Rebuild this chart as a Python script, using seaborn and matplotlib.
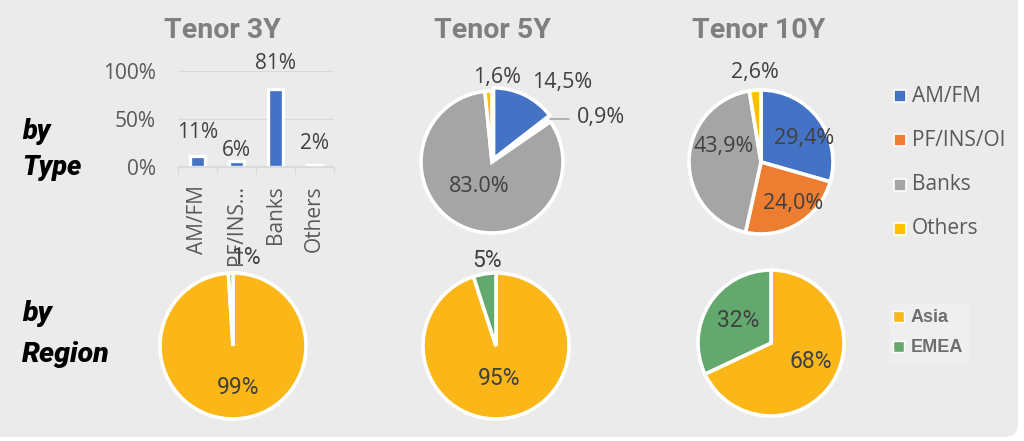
import matplotlib
matplotlib.use("Agg")
import matplotlib.pyplot as plt
from matplotlib.patches import FancyBboxPatch, Rectangle
from matplotlib.ticker import FixedLocator, PercentFormatter
import seaborn as sns
import pandas as pd

# ---- data -------------------------------------------------------------
type_categories = ["AM/FM", "PF/INS/OI", "Banks", "Others"]
type_tick_labels = ["AM/FM", "PF/INS…", "Banks", "Others"]
type_3y = [11, 6, 81, 2]
type_3y_labels = ["11%", "6%", "81%", "2%"]

type_5y = [14.5, 0.9, 83.0, 1.6]
type_5y_labels = ["14,5%", "0,9%", "83.0%", "1,6%"]

type_10y = [29.4, 24.0, 43.9, 2.6]
type_10y_labels = ["29,4%", "24,0%", "43,9%", "2,6%"]

regions = ["Asia", "EMEA"]
region_3y = [99, 1]
region_5y = [95, 5]
region_10y = [68, 32]

tenors = ["Tenor 3Y", "Tenor 5Y", "Tenor 10Y"]

# ---- style ------------------------------------------------------------
TYPE_COLORS = ["#4472C4", "#ED7D31", "#A5A5A5", "#FFC000"]
REGION_COLORS = ["#FBB617", "#63A96E"]
BG = "#EBEBEB"
LABEL_C = "#404040"
AXIS_C = "#595959"
W, H = 1024, 441

sns.set_theme(style="white")
plt.rcParams["font.family"] = ["Open Sans", "DejaVu Sans"]

fig = plt.figure(figsize=(W / 100, H / 100), dpi=100)
fig.patch.set_facecolor("white")

# full-figure canvas in pixel units for panel, headings and legends
canvas = fig.add_axes([0, 0, 1, 1], zorder=-5)
canvas.set_xlim(0, W)
canvas.set_ylim(H, 0)
canvas.axis("off")
canvas.add_patch(FancyBboxPatch((-30, -30), W - 6 + 30, H - 4 + 30,
                                boxstyle="round,pad=0,rounding_size=14",
                                facecolor=BG, edgecolor="none"))

HEAD = ["Roboto", "DejaVu Sans"]
for name, x in zip(tenors, [222, 492, 759]):
    canvas.text(x, 38, name, ha="center", va="baseline", fontsize=20.5,
                fontweight="bold", color="#7F7F7F", family=HEAD)

for txt, y, fs in [("by", 139, 19.5), ("Type", 175, 19.5),
                   ("by", 321, 20.5), ("Region", 362, 20.5)]:
    canvas.text(22, y, txt, fontsize=fs, fontweight="heavy", style="italic",
                color="black", family=HEAD, va="baseline")

# ---- 3Y bar chart by type ---------------------------------------------
bx0, bx1, by_top, by_bot = 178, 334, 71, 167
bar_ax = fig.add_axes([bx0 / W, 1 - by_bot / H, (bx1 - bx0) / W, (by_bot - by_top) / H])
bar_ax.set_facecolor("none")
df3 = pd.DataFrame({"cat": type_tick_labels, "share": [v / 100 for v in type_3y]})
sns.barplot(data=df3, x="cat", y="share", ax=bar_ax, color=TYPE_COLORS[0],
            saturation=1, width=0.36, edgecolor="white", linewidth=2.4)
bar_ax.set_ylim(0, 1)
bar_ax.set_xlim(-0.5, 3.5)
bar_ax.set_xlabel("")
bar_ax.set_ylabel("")
bar_ax.yaxis.set_major_locator(FixedLocator([0, 0.5, 1.0]))
bar_ax.yaxis.set_major_formatter(PercentFormatter(1.0, decimals=0))
bar_ax.grid(axis="y", color="#D9D9D9", linewidth=1)
bar_ax.set_axisbelow(True)
for s in ["top", "right", "left"]:
    bar_ax.spines[s].set_visible(False)
bar_ax.spines["bottom"].set_color("#D9D9D9")
bar_ax.tick_params(axis="y", length=0, pad=16, labelsize=15, labelcolor=AXIS_C)
bar_ax.tick_params(axis="x", which="major", length=0, pad=13, labelsize=15,
                   labelcolor=AXIS_C, labelrotation=90)
bar_ax.xaxis.set_minor_locator(FixedLocator([-0.5, 0.5, 1.5, 2.5, 3.5]))
bar_ax.tick_params(axis="x", which="minor", length=5, width=1, color="#D9D9D9",
                   direction="out", bottom=True)
for lbl in bar_ax.get_xticklabels():
    lbl.set_va("top")
bar_label_lift = [24, 11, 26, 22]  # pixels above each bar top
for i, (v, txt) in enumerate(zip(type_3y, type_3y_labels)):
    bar_ax.annotate(txt, (i, v / 100), xytext=(0, bar_label_lift[i] * 0.72),
                    textcoords="offset points", ha="center", va="center",
                    fontsize=15, color=LABEL_C, annotation_clip=False)


# ---- pies -------------------------------------------------------------
def pie_axes(cx, cy, r, lim=1.6):
    side = 2 * lim * r
    ax = fig.add_axes([(cx - lim * r) / W, 1 - (cy + lim * r) / H, side / W, side / H])
    ax.set_facecolor("none")
    return ax, lim


def draw_pie(cx, cy, r, values, colors, labels, label_pos, fontsize, family,
             explode=None):
    ax, lim = pie_axes(cx, cy, r)
    ax.pie(values, colors=colors, startangle=90, counterclock=False,
           radius=1, explode=explode,
           wedgeprops=dict(edgecolor="white", linewidth=2.6))
    ax.set_xlim(-lim, lim)
    ax.set_ylim(-lim, lim)
    ax.set_aspect("equal")
    ax.axis("off")
    for txt, (px, py, ha) in zip(labels, label_pos):
        ax.text(px, py, txt, ha=ha, va="center", fontsize=fontsize,
                color=LABEL_C, family=family, clip_on=False)
    return ax


PIE_FONT = ["Open Sans", "DejaVu Sans"]
REG_FONT = ["Roboto", "DejaVu Sans"]

# by type, 5Y
ax5 = draw_pie(492, 162, 71, type_5y, TYPE_COLORS, type_5y_labels,
               [(0.99, 1.12, "center"), (1.19, 0.62, "left"),
                (-0.18, -0.35, "center"), (0.07, 1.19, "center")],
               15.5, PIE_FONT, explode=[0.05, 0, 0, 0])
ax5.plot([0.82, 1.08], [0.60, 0.60], color="#A6A6A6", linewidth=1.2,
         clip_on=False)

# by type, 10Y
draw_pie(761, 162, 72, type_10y, TYPE_COLORS, type_10y_labels,
         [(0.60, 0.33, "center"), (0.44, -0.57, "center"),
          (-0.52, 0.21, "center"), (-0.08, 1.24, "center")],
         15.5, PIE_FONT)

# by region
region_labels = ([f"{v}%" for v in region_3y], [f"{v}%" for v in region_5y],
                 [f"{v}%" for v in region_10y])
draw_pie(233, 346, 73, region_3y, REGION_COLORS, region_labels[0],
         [(0.07, -0.57, "center"), (0.18, 1.21, "center")], 16.5, REG_FONT)
draw_pie(496, 346, 73, region_5y, REGION_COLORS, region_labels[1],
         [(0.04, -0.44, "center"), (-0.12, 1.17, "center")], 16.5, REG_FONT)
draw_pie(771, 343, 73, region_10y, REGION_COLORS, region_labels[2],
         [(0.55, -0.26, "center"), (-0.45, 0.31, "center")], 16.5, REG_FONT)

# ---- legends ----------------------------------------------------------
for name, color, y in zip(type_categories, TYPE_COLORS, [96, 140, 185, 229]):
    canvas.add_patch(Rectangle((894, y - 6), 12, 12, facecolor=color,
                               edgecolor="white", linewidth=1.2))
    canvas.text(912, y, name, ha="left", va="center", fontsize=15,
                color=AXIS_C)

canvas.add_patch(Rectangle((889, 303), 80, 60, facecolor="#EFEFEF",
                           edgecolor="none"))
for name, color, y in zip(regions, REGION_COLORS, [317, 347]):
    canvas.add_patch(Rectangle((893, y - 6), 11, 11, facecolor=color,
                               edgecolor="white", linewidth=1.0))
    canvas.text(911, y, name, ha="left", va="center", fontsize=13,
                fontweight="bold", color="#6E6E6E",
                family=["Liberation Sans", "DejaVu Sans"])

fig.savefig("out.png", dpi=100, facecolor=fig.get_facecolor())
